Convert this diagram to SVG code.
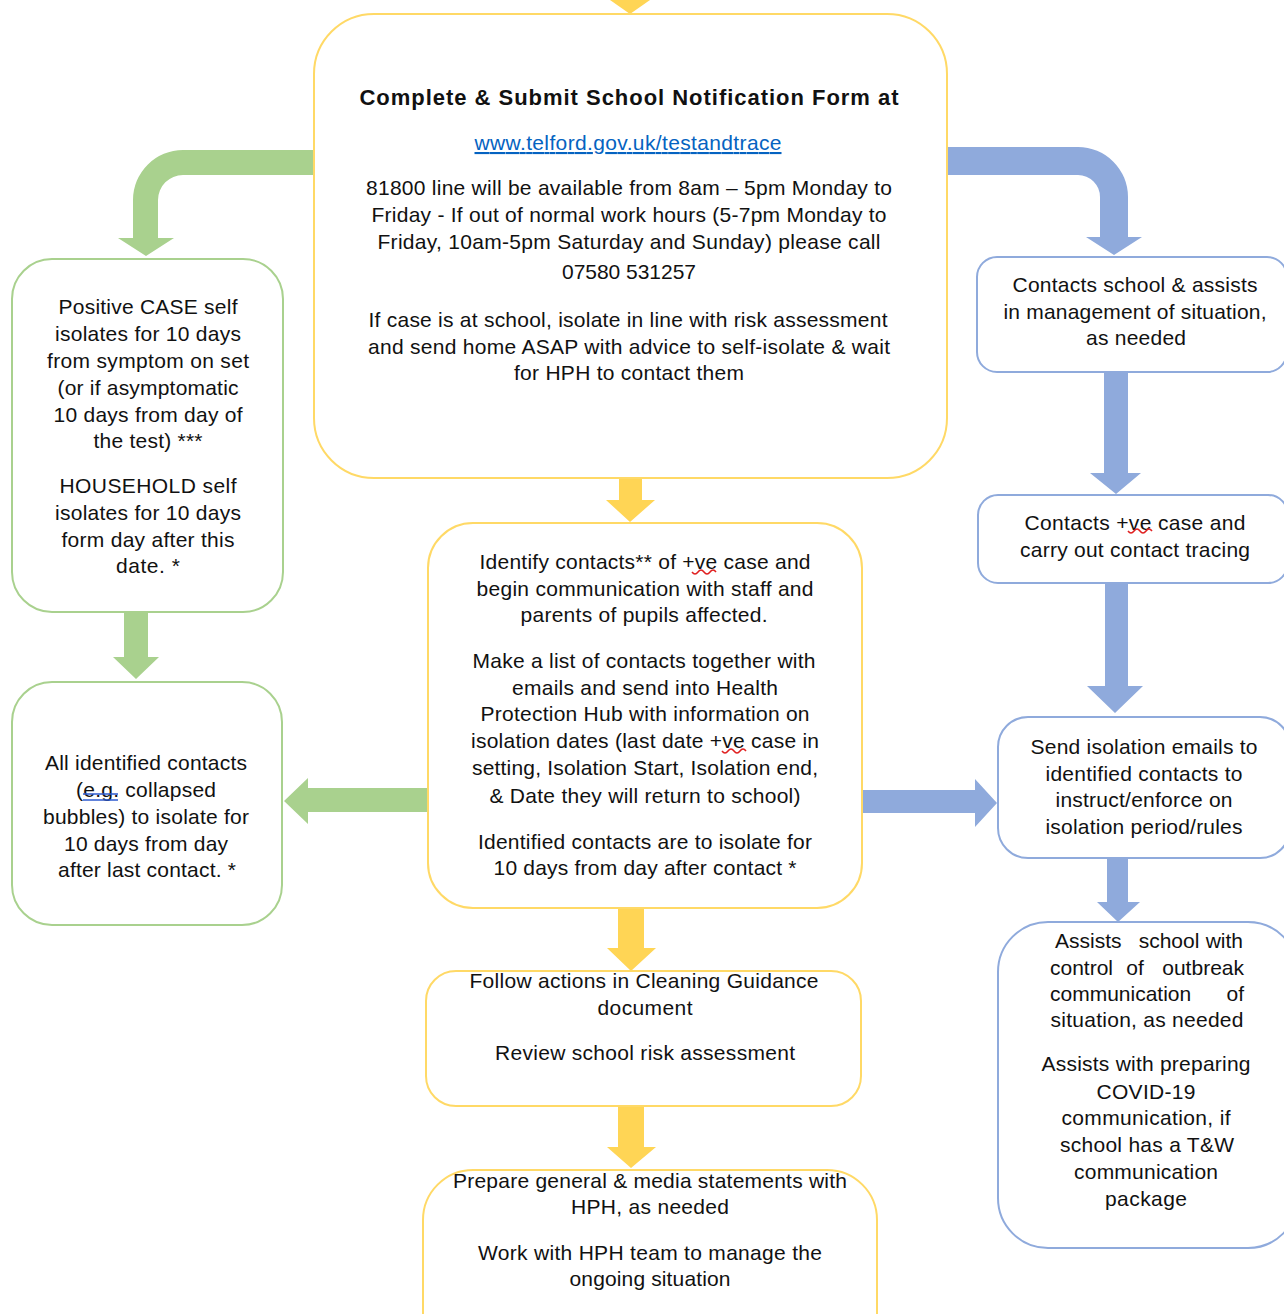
<svg xmlns="http://www.w3.org/2000/svg" width="1284" height="1314" viewBox="0 0 1284 1314">
<style>
text{font-family:"Liberation Sans",Arial,sans-serif;font-size:21px;fill:#111;text-anchor:middle}
.b{font-weight:bold;font-size:22px}
.lnk{fill:#0563C1;text-decoration:underline}
.s{text-anchor:start}.e{text-anchor:end}
.by{fill:#fff;stroke:#FFD966;stroke-width:2}
.bg{fill:#fff;stroke:#A9D18E;stroke-width:2}
.bb{fill:#fff;stroke:#8FAADC;stroke-width:2}
.ay{fill:#FFD555}.ag{fill:#A9D18E}.ab{fill:#8FAADC}
.sq{fill:none;stroke:#E02020;stroke-width:1.5}
</style>
<g id="connectors">
<polygon class="ay" points="610,0 650,0 630,14"/>
<path class="ag" d="M315,150 L183,150 A50,50 0 0 0 133,200 L133,238 L118,238 L146,256 L174,238 L158,238 L158,200 A25,25 0 0 1 183,175 L315,175 Z"/>
<path class="ab" d="M946,147 L1078,147 A50,50 0 0 1 1128,197 L1128,237 L1142,237 L1114,255 L1086,237 L1100,237 L1100,197 A22,22 0 0 0 1078,175 L946,175 Z"/>
<polygon class="ay" points="619,478 642,478 642,500 655,500 630,522 606,500 619,500"/>
<polygon class="ay" points="618,908 644,908 644,948 656,948 631,971 607,948 618,948"/>
<polygon class="ay" points="618,1106 644,1106 644,1147 656,1147 631,1168 607,1147 618,1147"/>
<polygon class="ag" points="124,612 148,612 148,657 159,657 136,679 113,657 124,657"/>
<polygon class="ag" points="430,788 430,812 308,812 308,824 284,801 308,778 308,788"/>
<polygon class="ab" points="862,790 975,790 975,779 997,803 975,827 975,813 862,813"/>
<polygon class="ab" points="1104,372 1128,372 1128,473 1141,473 1116,494 1090,473 1104,473"/>
<polygon class="ab" points="1105,583 1128,583 1128,686 1143,686 1115,713 1087,686 1105,686"/>
<polygon class="ab" points="1107,858 1128,858 1128,902 1140,902 1118,922 1097,902 1107,902"/>
</g>
<g id="n-form">
<rect class="by" x="314" y="14" width="633" height="464" rx="60"/>
<text class="b" x="629" y="105" textLength="539">Complete &amp; Submit School Notification Form at</text>
<text class="lnk" x="628" y="150" textLength="307">www.telford.gov.uk/testandtrace</text>
<text x="629" y="195" textLength="526">81800 line will be available from 8am – 5pm Monday to</text>
<text x="629" y="222" textLength="515">Friday - If out of normal work hours (5-7pm Monday to</text>
<text x="629" y="249" textLength="503">Friday, 10am-5pm Saturday and Sunday) please call</text>
<text x="629" y="279" textLength="134">07580 531257</text>
<text x="628" y="327" textLength="519">If case is at school, isolate in line with risk assessment</text>
<text x="629" y="354" textLength="522">and send home ASAP with advice to self-isolate &amp; wait</text>
<text x="629" y="380" textLength="230">for HPH to contact them</text>
</g>
<g id="n-case">
<rect class="bg" x="12" y="259" width="271" height="353" rx="40"/>
<text x="148" y="314" textLength="179">Positive CASE self</text>
<text x="148" y="341" textLength="186">isolates for 10 days</text>
<text x="148" y="368" textLength="202">from symptom on set</text>
<text x="148" y="395" textLength="181">(or if asymptomatic</text>
<text x="148" y="422" textLength="189">10 days from day of</text>
<text x="148" y="448" textLength="109">the test) ***</text>
<text x="148" y="493" textLength="177">HOUSEHOLD self</text>
<text x="148" y="520" textLength="186">isolates for 10 days</text>
<text x="148" y="547" textLength="173">form day after this</text>
<text x="148" y="573" textLength="64">date. *</text>
</g>
<g id="n-contacts">
<rect class="bg" x="12" y="682" width="270" height="243" rx="40"/>
<text x="146" y="770" textLength="202">All identified contacts</text>
<text x="146" y="797" textLength="140">(e.g. collapsed</text>
<path d="M83,794 H118 M83,800 H118" stroke="#2F5BD0" stroke-width="1.5" fill="none"/>
<text x="146" y="824" textLength="206">bubbles) to isolate for</text>
<text x="146" y="851" textLength="164">10 days from day</text>
<text x="147" y="877" textLength="178">after last contact. *</text>
</g>
<g id="n-identify">
<rect class="by" x="428" y="523" width="434" height="385" rx="45"/>
<text x="645" y="569" textLength="331">Identify contacts** of +ve case and</text>
<path class="sq" d="M692,572 q3,4 6,0 t6,0 t6,0 t6,0"/>
<text x="645" y="596" textLength="337">begin communication with staff and</text>
<text x="644" y="622" textLength="247">parents of pupils affected.</text>
<text x="644" y="668" textLength="343">Make a list of contacts together with</text>
<text x="645" y="695" textLength="266">emails and send into Health</text>
<text x="645" y="721" textLength="329">Protection Hub with information on</text>
<text x="645" y="748" textLength="348">isolation dates (last date +ve case in</text>
<path class="sq" d="M722,751 q3,4 6,0 t6,0 t6,0 t6,0"/>
<text x="645" y="775" textLength="346">setting, Isolation Start, Isolation end,</text>
<text x="645" y="803" textLength="311">&amp; Date they will return to school)</text>
<text x="645" y="849" textLength="334">Identified contacts are to isolate for</text>
<text x="645" y="875" textLength="303">10 days from day after contact *</text>
</g>
<g id="n-cleaning">
<rect class="by" x="426" y="971" width="435" height="135" rx="30"/>
<text x="644" y="988" textLength="349">Follow actions in Cleaning Guidance</text>
<text x="645" y="1015" textLength="95">document</text>
<text x="645" y="1060" textLength="300">Review school risk assessment</text>
</g>
<g id="n-prepare">
<rect class="by" x="423" y="1170" width="454" height="240" rx="50"/>
<text x="650" y="1188" textLength="394">Prepare general &amp; media statements with</text>
<text x="650" y="1214" textLength="158">HPH, as needed</text>
<text x="650" y="1260" textLength="344">Work with HPH team to manage the</text>
<text x="650" y="1286" textLength="161">ongoing situation</text>
</g>
<g id="n-hph1">
<rect class="bb" x="977" y="257" width="310" height="115" rx="20"/>
<text x="1135" y="292" textLength="245">Contacts school &amp; assists</text>
<text x="1135" y="319" textLength="263">in management of situation,</text>
<text x="1136" y="345" textLength="100">as needed</text>
</g>
<g id="n-hph2">
<rect class="bb" x="978" y="495" width="310" height="88" rx="20"/>
<text x="1135" y="530" textLength="221">Contacts +ve case and</text>
<path class="sq" d="M1128,531 q3,4 6,0 t6,0 t6,0 t6,0"/>
<text x="1135" y="557" textLength="230">carry out contact tracing</text>
</g>
<g id="n-hph3">
<rect class="bb" x="998" y="717" width="292" height="141" rx="30"/>
<text x="1144" y="754" textLength="227">Send isolation emails to</text>
<text x="1144" y="781" textLength="197">identified contacts to</text>
<text x="1144" y="807" textLength="177">instruct/enforce on</text>
<text x="1144" y="834" textLength="197">isolation period/rules</text>
</g>
<g id="n-hph4">
<rect class="bb" x="998" y="922" width="300" height="326" rx="50"/>
<text class="s" x="1055" y="948">Assists</text>
<text x="1169" y="948">school</text>
<text class="e" x="1243" y="948">with</text>
<text class="s" x="1050" y="975">control</text>
<text x="1135" y="975">of</text>
<text class="e" x="1244" y="975">outbreak</text>
<text class="s" x="1050" y="1001">communication</text>
<text class="e" x="1244" y="1001">of</text>
<text x="1147" y="1027" textLength="193">situation, as needed</text>
<text x="1146" y="1071" textLength="209">Assists with preparing</text>
<text x="1146" y="1099" textLength="99">COVID-19</text>
<text x="1146" y="1125" textLength="169">communication, if</text>
<text x="1147" y="1152" textLength="174">school has a T&amp;W</text>
<text x="1146" y="1179" textLength="144">communication</text>
<text x="1146" y="1206" textLength="82">package</text>
</g>
</svg>
